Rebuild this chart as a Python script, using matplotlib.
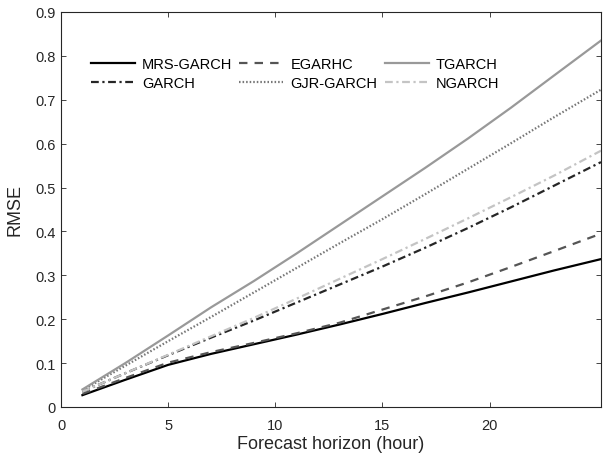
import matplotlib
matplotlib.use("Agg")
import matplotlib.pyplot as plt

plt.rcParams['font.family'] = ['Liberation Sans', 'DejaVu Sans']

horizon = [1, 3, 5, 7, 9, 11, 13, 15, 17, 19, 21, 23, 25.2]
mrs_garch = [0.027, 0.062, 0.096, 0.121, 0.143, 0.165, 0.188, 0.212, 0.237, 0.261, 0.286, 0.311, 0.337]
garch     = [0.035, 0.077, 0.118, 0.158, 0.197, 0.238, 0.279, 0.320, 0.363, 0.408, 0.455, 0.504, 0.558]
egarhc    = [0.030, 0.066, 0.101, 0.125, 0.146, 0.168, 0.192, 0.222, 0.252, 0.284, 0.319, 0.355, 0.395]
gjr_garch = [0.038, 0.094, 0.150, 0.205, 0.261, 0.317, 0.373, 0.428, 0.485, 0.543, 0.601, 0.660, 0.723]
tgarch    = [0.040, 0.100, 0.163, 0.227, 0.287, 0.350, 0.415, 0.480, 0.545, 0.612, 0.682, 0.755, 0.835]
ngarch    = [0.035, 0.077, 0.119, 0.161, 0.203, 0.247, 0.292, 0.337, 0.383, 0.430, 0.478, 0.527, 0.584]

xticks = [0, 5, 10, 15, 20]
yticks = [0, 0.1, 0.2, 0.3, 0.4, 0.5, 0.6, 0.7, 0.8, 0.9]
ytick_labels = ['0', '0.1', '0.2', '0.3', '0.4', '0.5', '0.6', '0.7', '0.8', '0.9']

fig = plt.figure(figsize=(6.03, 4.6), dpi=100)
ax = fig.add_axes([61/603, 52/460, 540/603, 395/460])

lw = 1.6
dashdot = (0, (3.5, 1.6, 1.0, 1.6))
ax.plot(horizon, mrs_garch, color='#000000', lw=lw, ls='-', label='MRS-GARCH')
ax.plot(horizon, garch, color='#262626', lw=lw, ls=dashdot, label='GARCH')
ax.plot(horizon, egarhc, color='#555555', lw=lw, ls=(0, (3.8, 3.2)), label='EGARHC')
ax.plot(horizon, gjr_garch, color='#777777', lw=lw, ls=(0, (0.7, 0.9)), label='GJR-GARCH')
ax.plot(horizon, tgarch, color='#999999', lw=lw, ls='-', label='TGARCH')
ax.plot(horizon, ngarch, color='#c4c4c4', lw=lw, ls=dashdot, label='NGARCH')

ax.set_xlim(0, 25.2)
ax.set_ylim(0, 0.9)
ax.set_xticks(xticks)
ax.set_yticks(yticks)
ax.set_yticklabels(ytick_labels)
ax.tick_params(direction='in', length=3.6, width=0.6, top=True, right=True,
               labelsize=10.5, colors='#262626')
ax.tick_params(axis='x', pad=8)
ax.tick_params(axis='y', pad=4)
for s in ax.spines.values():
    s.set_linewidth(0.8)
    s.set_color('#262626')

ax.set_xlabel('Forecast horizon (hour)', fontsize=13, color='#262626', labelpad=2)
ax.set_ylabel('RMSE', fontsize=13, color='#262626', labelpad=8)

leg = ax.legend(ncol=3, loc='upper left', bbox_to_anchor=(0.0443, 0.8997), frameon=False,
                fontsize=10.5, handlelength=3.0, handletextpad=0.5, columnspacing=0.5,
                labelspacing=0.3, borderaxespad=0)

fig.savefig('out.png', dpi=100)
